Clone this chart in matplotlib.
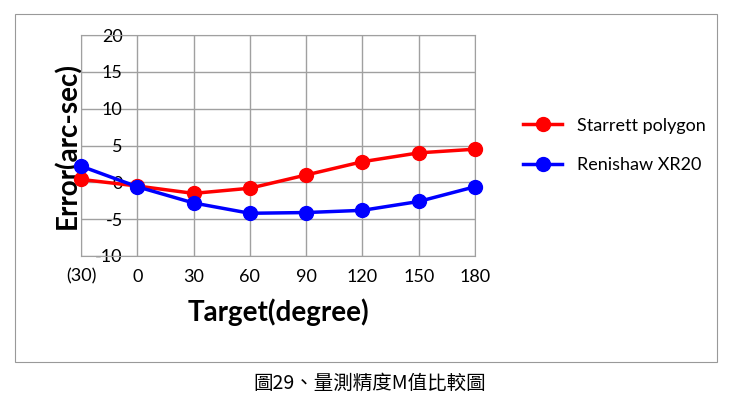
import matplotlib
matplotlib.use("Agg")
import matplotlib.pyplot as plt
from matplotlib.patches import Rectangle

categories = ["(30)", "0", "30", "60", "90", "120", "150", "180"]
starrett = [0.4, -0.5, -1.5, -0.8, 1.0, 2.8, 4.0, 4.5]
renishaw = [2.2, -0.6, -2.8, -4.2, -4.1, -3.8, -2.6, -0.6]
yticks = [-10, -5, 0, 5, 10, 15, 20]

plt.rcParams['font.family'] = ['Lato', 'DejaVu Sans']
fig = plt.figure(figsize=(7.4, 4.05), dpi=100)
fig.patches.append(Rectangle((15/740, 1-362/405), 702/740, 348/405, transform=fig.transFigure,
                             fill=False, edgecolor='#999999', linewidth=0.8))
ax = fig.add_axes([81/740, 1-256/405, 394/740, 221/405])
x = list(range(len(categories)))
ax.plot(x, starrett, color='#ff0000', lw=2.5, marker='o', ms=10, label='Starrett polygon', clip_on=False, zorder=3)
ax.plot(x, renishaw, color='#0000ff', lw=2.5, marker='o', ms=10, label='Renishaw XR20', clip_on=False, zorder=4)
ax.set_xlim(0, 7)
ax.set_ylim(-10, 20)
ax.set_xticks(x)
ax.set_xticklabels(categories, fontsize=13)
ax.set_yticks(yticks)
ax.set_yticklabels([str(v) for v in yticks], fontsize=13)
ax.tick_params(axis='y', length=0, pad=-30)
ax.tick_params(axis='x', length=0, pad=9)
ax.grid(True, color='#a0a0a0', lw=1)
for s in ax.spines.values():
    s.set_color('#a0a0a0')
ax.set_axisbelow(True)
ax.set_xlabel('Target(degree)', fontsize=20, fontweight='bold', labelpad=10)
ax.set_ylabel('Error(arc-sec)', fontsize=20, fontweight='bold', labelpad=0)
ax.legend(loc='center left', bbox_to_anchor=(1.08, 0.5), frameon=False, fontsize=13,
          handlelength=2.2, labelspacing=1.3)
fig.text(370/740, 1-383/405, '圖29、量測精度M值比較圖', ha='center', va='center', fontsize=14,
         family=['Noto Sans CJK TC', 'DejaVu Sans'])
fig.savefig('out.png', dpi=100)
